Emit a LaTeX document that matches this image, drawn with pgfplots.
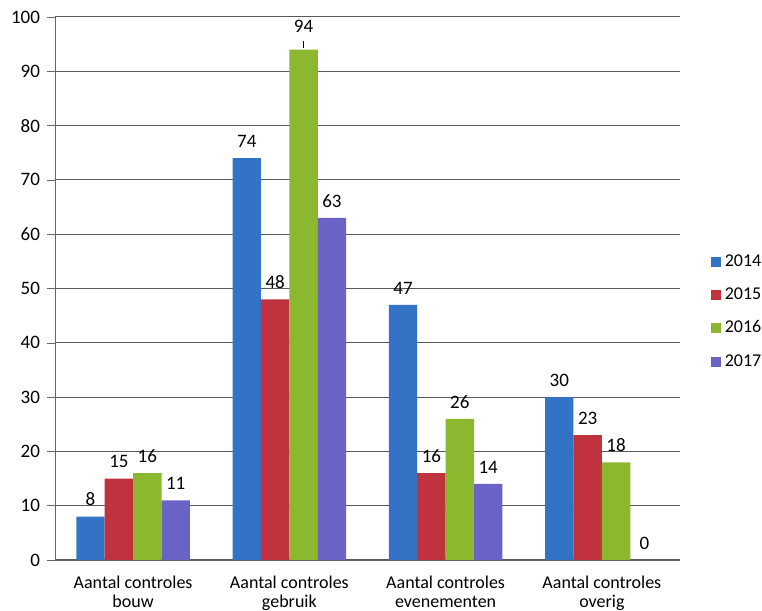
\documentclass[border=0pt]{standalone}
\usepackage{pgfplots}
\pgfplotsset{compat=1.18}
\usepackage{fontspec}
\setmainfont{Carlito}
\definecolor{c14}{HTML}{3273C6}
\definecolor{c15}{HTML}{C0323E}
\definecolor{c16}{HTML}{8CB830}
\definecolor{c17}{HTML}{6A62C4}
\begin{document}
\begin{tikzpicture}
\begin{axis}[
  scale only axis,
  width=312.5pt, height=271.5pt,
  ymin=0, ymax=100, ytick={0,10,...,100},
  xmin=-0.5, xmax=3.5,
  xtick={0,1,2,3},
  xticklabels={{Aantal controles\\bouw},{Aantal controles\\gebruik},{Aantal controles\\evenementen},{Aantal controles\\overig}},
  xticklabel style={align=center, font=\fontsize{9}{9.6}\selectfont, yshift=-0.5pt},
  major x tick style={draw=none},
  extra x ticks={0.5,1.5,2.5},
  extra x tick labels={},
  extra x tick style={major tick length=4pt, tick align=outside, tick style={draw=gray!80!black}},
  ytick align=outside, major tick length=4pt,
  yticklabel style={font=\fontsize{9.5}{11}\selectfont},
  /pgf/number format/assume math mode=true,
  axis x line*=bottom, axis y line*=left,
  axis line style={gray!80!black, -},
  tick style={gray!80!black},
  ymajorgrids, grid style={gray!70!black, line width=0.5pt},
  ybar=0pt, bar width=14.2pt,
  nodes near coords,
  nodes near coords style={font=\fontsize{9.5}{11}\selectfont, black, yshift=1.8pt},
  legend style={draw=none, at={(1.039,0.457)}, anchor=west, font=\fontsize{9}{10.5}\selectfont, row sep=5.2pt, fill=none},
  legend cell align=left,
  legend image code/.code={\fill[#1] (0pt,-2.5pt) rectangle (5pt,2.5pt);},
]
\addplot[draw=none, fill=c14] coordinates {(0,8) (1,74) (2,47) (3,30)};
\addplot[draw=none, fill=c15] coordinates {(0,15) (1,48) (2,16) (3,23)};
\addplot[draw=none, fill=c16, point meta=explicit symbolic, nodes near coords={\pgfplotspointmeta}] coordinates {(0,16) [16] (1,94) [\raisebox{3pt}{94}] (2,26) [26] (3,18) [18]};
\addplot[draw=none, fill=c17] coordinates {(0,11) (1,63) (2,14) (3,0)};
\legend{2014,2015,2016,2017}
\draw[black, line width=0.5pt] ([xshift=7.1pt, yshift=0.8pt]axis cs:1,94) -- ([xshift=7.1pt, yshift=4.2pt]axis cs:1,94);
\end{axis}
\pgfresetboundingbox
\path (current axis.south west) ++(-27.5pt,-25.5pt) coordinate (bl);
\path (current axis.north east) ++(41pt,8.5pt) coordinate (tr);
\path (bl) rectangle (tr);
\end{tikzpicture}
\end{document}
